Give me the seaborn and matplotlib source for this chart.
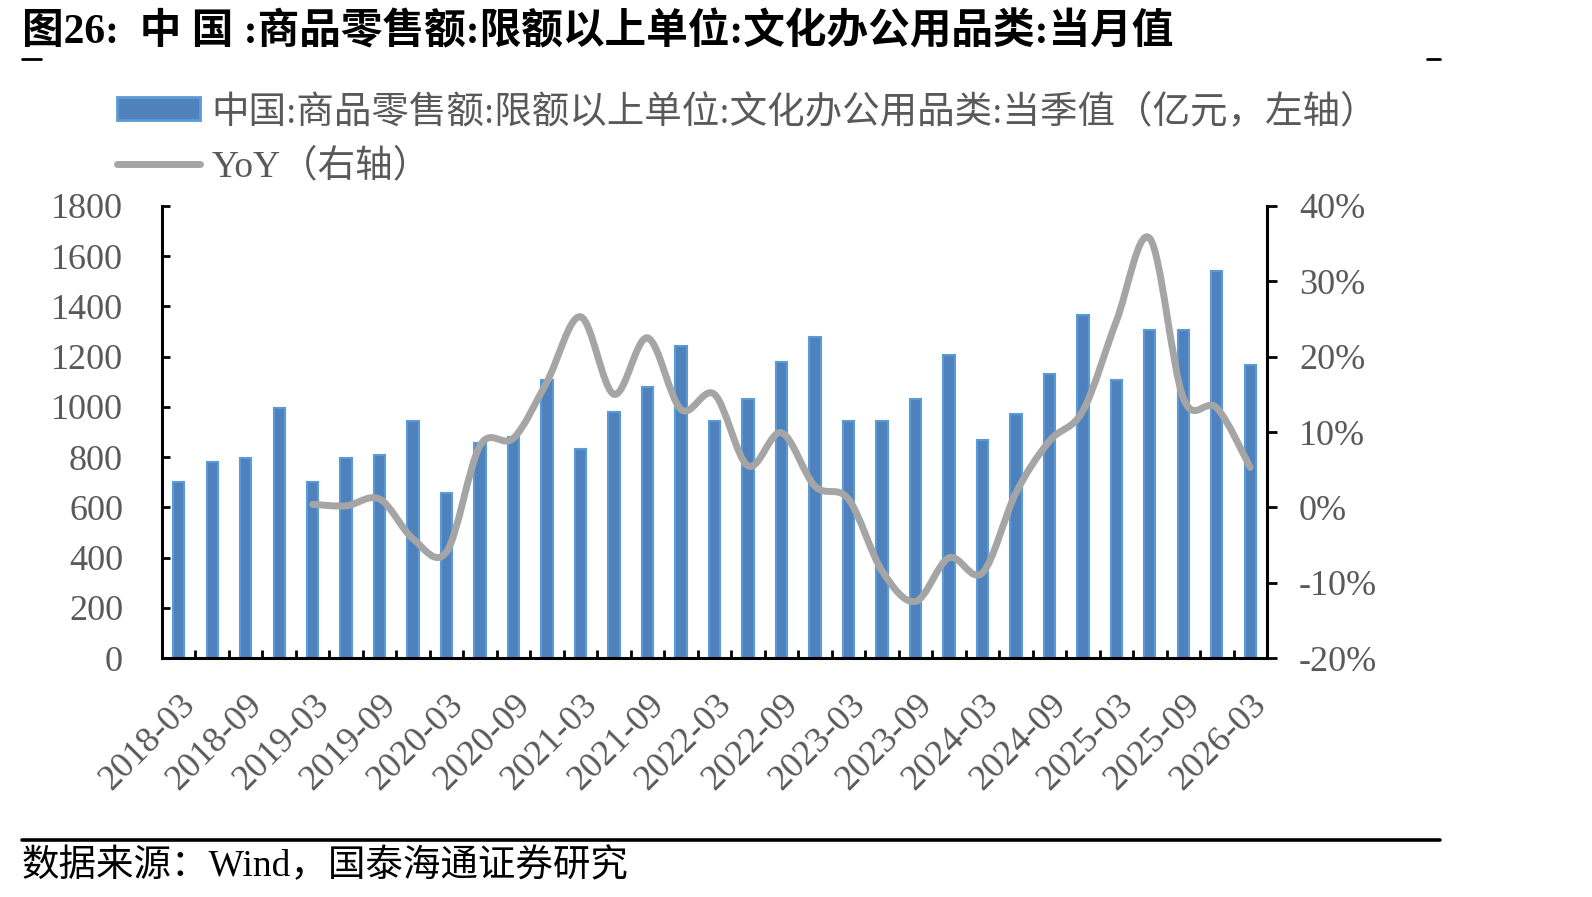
import matplotlib
matplotlib.use("Agg")
import matplotlib.pyplot as plt
import matplotlib.transforms as mtransforms
import numpy as np
import seaborn as sns
from matplotlib.path import Path
from matplotlib.patches import PathPatch, Patch
from matplotlib.lines import Line2D
from matplotlib.ticker import FuncFormatter, MultipleLocator

# 数据（季度）
quarters = ['2018-03', '2018-06', '2018-09', '2018-12',
            '2019-03', '2019-06', '2019-09', '2019-12',
            '2020-03', '2020-06', '2020-09', '2020-12',
            '2021-03', '2021-06', '2021-09', '2021-12',
            '2022-03', '2022-06', '2022-09', '2022-12',
            '2023-03', '2023-06', '2023-09', '2023-12',
            '2024-03', '2024-06', '2024-09', '2024-12',
            '2025-03', '2025-06', '2025-09', '2025-12',
            '2026-03']
sales = [700, 780, 795, 995, 700, 797, 808, 945, 658, 857, 880, 1109,
         833, 980, 1078, 1244, 945, 1033, 1180, 1279, 945, 945, 1033, 1207,
         870, 970, 1132, 1366, 1109, 1307, 1307, 1542, 1168]
yoy_start = '2019-03'
yoy = [0.4, 0.2, 1.1, -4.2, -5.9, 8.2, 9.2, 16.7, 25.3, 15.0, 22.5, 13.0,
       15.0, 5.5, 9.9, 2.8, 1.1, -8.4, -12.5, -6.7, -8.7, 1.9, 8.8, 12.8,
       24.7, 35.7, 14.5, 13.2, 5.3]

bar_label = "中国:商品零售额:限额以上单位:文化办公用品类:当季值（亿元，左轴）"
line_label = "YoY（右轴）"
title = "图26:  中 国 :商品零售额:限额以上单位:文化办公用品类:当月值"
source = "数据来源：Wind，国泰海通证券研究"

bar_face = "#4F81BD"
bar_edge = "#5B9BD5"
line_color = "#A5A5A5"
txt_gray = "#595959"

sns.set_theme(style="white")
plt.rcParams['font.family'] = ['Liberation Serif', 'Noto Sans CJK SC']
plt.rcParams['axes.unicode_minus'] = False

W, H = 1592, 897
fig = plt.figure(figsize=(W / 100, H / 100), dpi=100)
ax = fig.add_axes([162 / W, 1 - 658 / H, (1267 - 162) / W, (658 - 206) / H])

sns.barplot(x=quarters, y=sales, ax=ax, color=bar_face, saturation=1,
            width=0.34, edgecolor=bar_edge, linewidth=1.5)
ax.set_xlim(-0.5, len(quarters) - 0.5)
ax.set_ylim(0, 1800)
ax.yaxis.set_major_locator(MultipleLocator(200))
ax.set_xlabel("")
ax.set_ylabel("")

# 右轴 YoY（平滑线，同 Excel）
ax2 = ax.twinx()
x0 = quarters.index(yoy_start)
xs = np.arange(x0, x0 + len(yoy), dtype=float)
ys = np.array(yoy, dtype=float) / 100
pts = np.column_stack([xs, ys])
verts = [pts[0]]
codes = [Path.MOVETO]
n = len(pts)
for i in range(n - 1):
    p0 = pts[i - 1] if i > 0 else pts[i]
    p1, p2 = pts[i], pts[i + 1]
    p3 = pts[i + 2] if i + 2 < n else pts[i + 1]
    verts += [p1 + (p2 - p0) / 6, p2 - (p3 - p1) / 6, p2]
    codes += [Path.CURVE4] * 3
ax2.add_patch(PathPatch(Path(verts, codes), fill=False, edgecolor=line_color,
                        lw=5, capstyle='round', joinstyle='round', zorder=3))
ax2.set_ylim(-0.2, 0.4)
ax2.yaxis.set_major_locator(MultipleLocator(0.1))
ax2.yaxis.set_major_formatter(FuncFormatter(lambda v, p: f"{v * 100:.0f}%"))

# 轴样式
for a in (ax, ax2):
    for s in a.spines.values():
        s.set_visible(False)
ax.spines['left'].set_visible(True)
ax.spines['bottom'].set_visible(True)
ax2.spines['right'].set_visible(True)
for s in (ax.spines['left'], ax.spines['bottom'], ax2.spines['right']):
    s.set_color('black')
    s.set_linewidth(2.2)

ax.tick_params(axis='y', direction='in', length=6, width=2, color='black',
               labelsize=26, labelcolor=txt_gray, pad=28, left=True)
ax2.tick_params(axis='y', direction='out', length=7, width=2, color='black',
                labelsize=26, labelcolor=txt_gray, pad=16, right=True)

ax.set_xticks(np.arange(len(quarters))[::2])
ax.set_xticklabels(quarters[::2], rotation=45, ha='right', va='top',
                   rotation_mode='anchor', fontsize=26, color=txt_gray)
shift = mtransforms.ScaledTranslation(-8 / 100, 0, fig.dpi_scale_trans)
for lab in ax.get_xticklabels():
    lab.set_transform(lab.get_transform() + shift)
ax.set_xticks(np.arange(len(quarters) + 1) - 0.5, minor=True)
ax.tick_params(axis='x', which='major', length=0, pad=22)
ax.tick_params(axis='x', which='minor', direction='in', length=6, width=2,
               color='black', bottom=True)

# 图例
handles = [Patch(facecolor=bar_face, edgecolor=bar_edge, lw=2),
           Line2D([], [], color=line_color, lw=5, solid_capstyle='round')]
fig.legend(handles, [bar_label, line_label], loc='upper left',
           bbox_to_anchor=(117 / W, 1 - 94 / H), frameon=False, fontsize=27,
           labelcolor=txt_gray, handlelength=2.2, handleheight=0.55,
           handletextpad=0.32, labelspacing=0.5, borderpad=0, borderaxespad=0)

# 标题、来源、分隔线
fig.text(22 / W, 1 - 32 / H, title, fontsize=30, fontweight='bold',
         color='black', ha='left', va='center')
fig.add_artist(Line2D([22 / W, 41 / W], [1 - 59 / H] * 2, color='black', lw=2))
fig.add_artist(Line2D([1427 / W, 1440 / W], [1 - 59 / H] * 2, color='black', lw=2))
fig.add_artist(Line2D([22 / W, 1440 / W], [1 - 840 / H] * 2, color='black', lw=2.6))
fig.text(22 / W, 1 - 866 / H, source, fontsize=27, color='black',
         ha='left', va='center')

fig.savefig("out.png", dpi=100, facecolor='white')
